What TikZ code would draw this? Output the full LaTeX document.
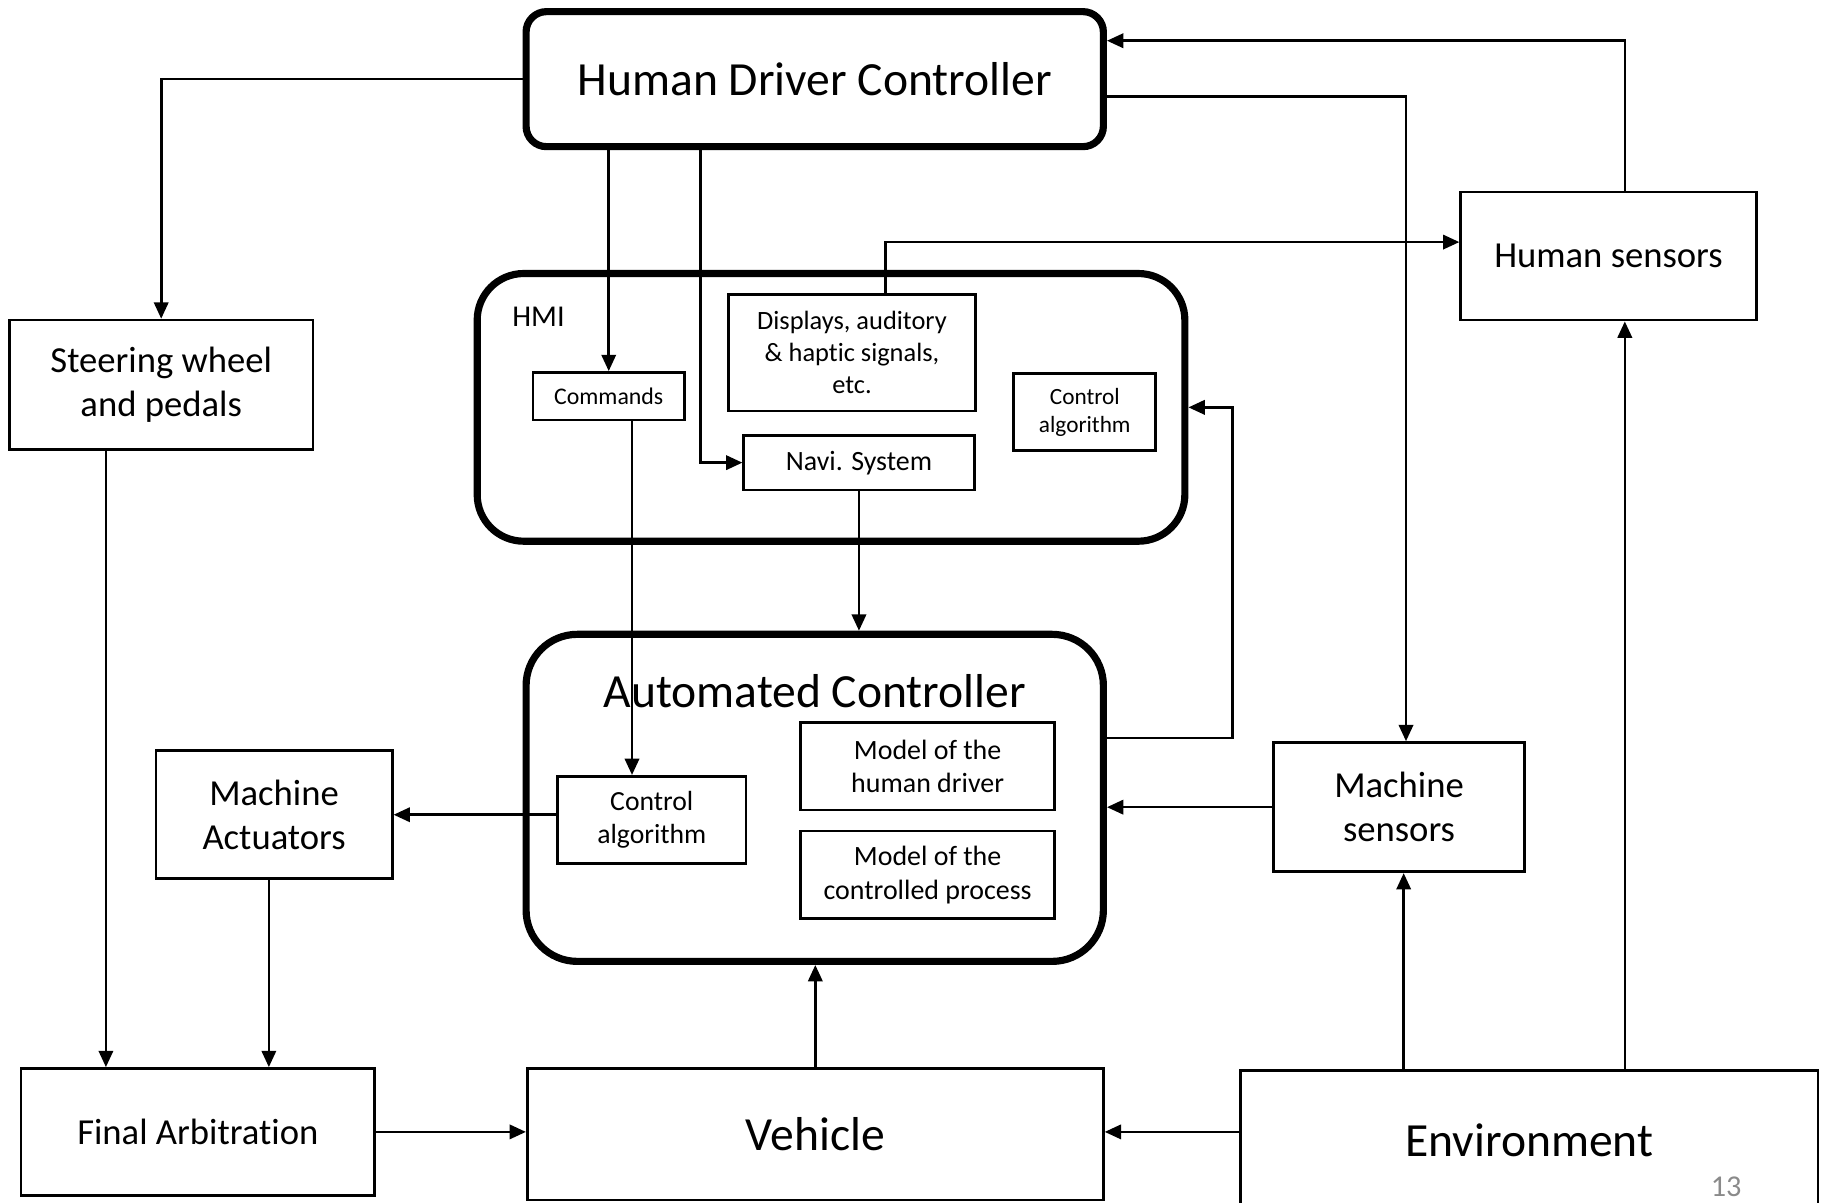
\documentclass[tikz,border=0pt]{standalone}
\usepackage{fontspec}
\setmainfont{Carlito}[Ligatures=NoCommon]
\usetikzlibrary{arrows.meta}
% font size given in drawing units (1 unit = 0.02cm)
\newcommand\pxfont[1]{\fontsize{\fpeval{#1*0.569}pt}{\fpeval{#1*0.569*1.21}pt}\selectfont}

\begin{document}
\begin{tikzpicture}[x=0.02cm,y=-0.02cm,
  wh/.style 2 args={minimum width={#1*0.02cm}, minimum height={#2*0.02cm}},
  box/.style={draw, line width=1.3pt, inner sep=0pt, align=center},
  ctrlbox/.style={draw, line width=3.5pt, inner sep=0pt, align=center},
  arr/.style={line width=1.3pt, -{Triangle[length=8pt,width=7pt]}},
  big/.style={font={\pxfont{40.9}}},
  mid/.style={font={\pxfont{31.5}}},
]
\useasboundingbox (0,0) rectangle (1568,1033);
\clip (0,0) rectangle (1568,1033);

% controllers
\node[ctrlbox, rounded corners=0.35cm, big, wh={496}{116}] (hdc) at (700,68) {Human Driver Controller};
\node[ctrlbox, rounded corners=0.8cm, wh={608}{230}] (hmi) at (714,350) {};
\node[anchor=west, font={\pxfont{26}}] (hmilbl) at (434,272) {HMI};
\node[ctrlbox, rounded corners=0.88cm, wh={496}{281}] (ac) at (700,685.5) {};
\node[big] (actitle) at (700,594) {Automated Controller};

% HMI contents
\node[box, font={\pxfont{20.5}}, wh={130}{41}] (cmd) at (523,340.5) {Commands};
\node[box, font={\pxfont{22.7}}, wh={212}{100}] (disp) at (732,303) {Displays, auditory\\\& haptic signals,\\etc.};
\node[box, font={\pxfont{20}}, wh={122}{66}] (hmictrl) at (932,354) {Control\\algorithm};
\node[box, font={\pxfont{24}}, wh={198}{47}] (navi) at (738,397.5) {Navi. System};

% automated controller contents
\node[box, font={\pxfont{23.8}}, wh={162}{75}] (ctrl) at (560,704.5) {Control\\algorithm};
\node[box, font={\pxfont{24}}, wh={218}{75}] (mdrv) at (797,658.5) {Model of the\\human driver};
\node[box, font={\pxfont{24}}, wh={218}{75}] (mproc) at (797,751.5) {Model of the\\controlled process};

% outer blocks
\node[box, mid, wh={261}{111}] (steer) at (138.5,330.5) {Steering wheel\\and pedals};
\node[box, mid, wh={203}{110}] (mact) at (235.5,700) {Machine\\Actuators};
\node[box, mid, wh={304}{109}] (fa) at (170,972.5) {Final Arbitration};
\node[box, big, wh={495}{113}] (veh) at (700.5,974.5) {Vehicle};
\node[box, big, wh={496}{120}] (env) at (1314,980) {Environment};
\node[box, mid, wh={254}{110}] (hsens) at (1382,220) {Human sensors};
\node[box, mid, wh={216}{111}] (msens) at (1202,693.5) {Machine\\sensors};
\node[text=black!46, font={\pxfont{26}}] (pg) at (1483,1020) {13};

% bend points of the routed connectors
\coordinate (naviX) at (602,0);
\coordinate (dispX) at (761,0);
\coordinate (sensX) at (1396,0);
\coordinate (msX) at (1208,0);
\coordinate (envmsX) at (1206,0);
\coordinate (cmdX) at (543,0);
\coordinate (fbX) at (1059,0);
\coordinate (steerX) at (91,0);
\coordinate (actX) at (231,0);
\coordinate (topY) at (0,35);
\coordinate (hdcY) at (0,83);
\coordinate (hsY) at (0,208);
\coordinate (acY) at (0,634);

% connectors
\draw[arr] (hdc.west) -| (steer.north);
\draw[arr] (hdc.south -| cmd.north) -- (cmd.north);
\draw[arr] (hdc.south -| naviX) |- (navi.west);
\draw[arr] (disp.north -| dispX) |- (hsens.west |- hsY);
\draw[arr] (hsens.north -| sensX) |- (hdc.east |- topY);
\draw[arr] (hdc.east |- hdcY) -| (msens.north -| msX);
\draw[arr] (cmd.south -| cmdX) -- (ctrl.north -| cmdX);
\draw[arr] (navi.south) -- (navi.south |- ac.north);
\draw[arr] (ac.east |- acY) -| (fbX |- hmi.east) -- (hmi.east);
\draw[arr] (msens.west) -- (msens.west -| ac.east);
\draw[arr] (ctrl.west |- mact.east) -- (mact.east);
\draw[arr] (steer.south -| steerX) -- (fa.north -| steerX);
\draw[arr] (mact.south -| actX) -- (fa.north -| actX);
\draw[arr] (fa.east) -- (fa.east -| veh.west);
\draw[arr] (veh.north) -- (veh.north |- ac.south);
\draw[arr] (env.west |- fa.east) -- (veh.east |- fa.east);
\draw[arr] (env.north -| envmsX) -- (msens.south -| envmsX);
\draw[arr] (env.north -| sensX) -- (hsens.south -| sensX);
\end{tikzpicture}
\end{document}
